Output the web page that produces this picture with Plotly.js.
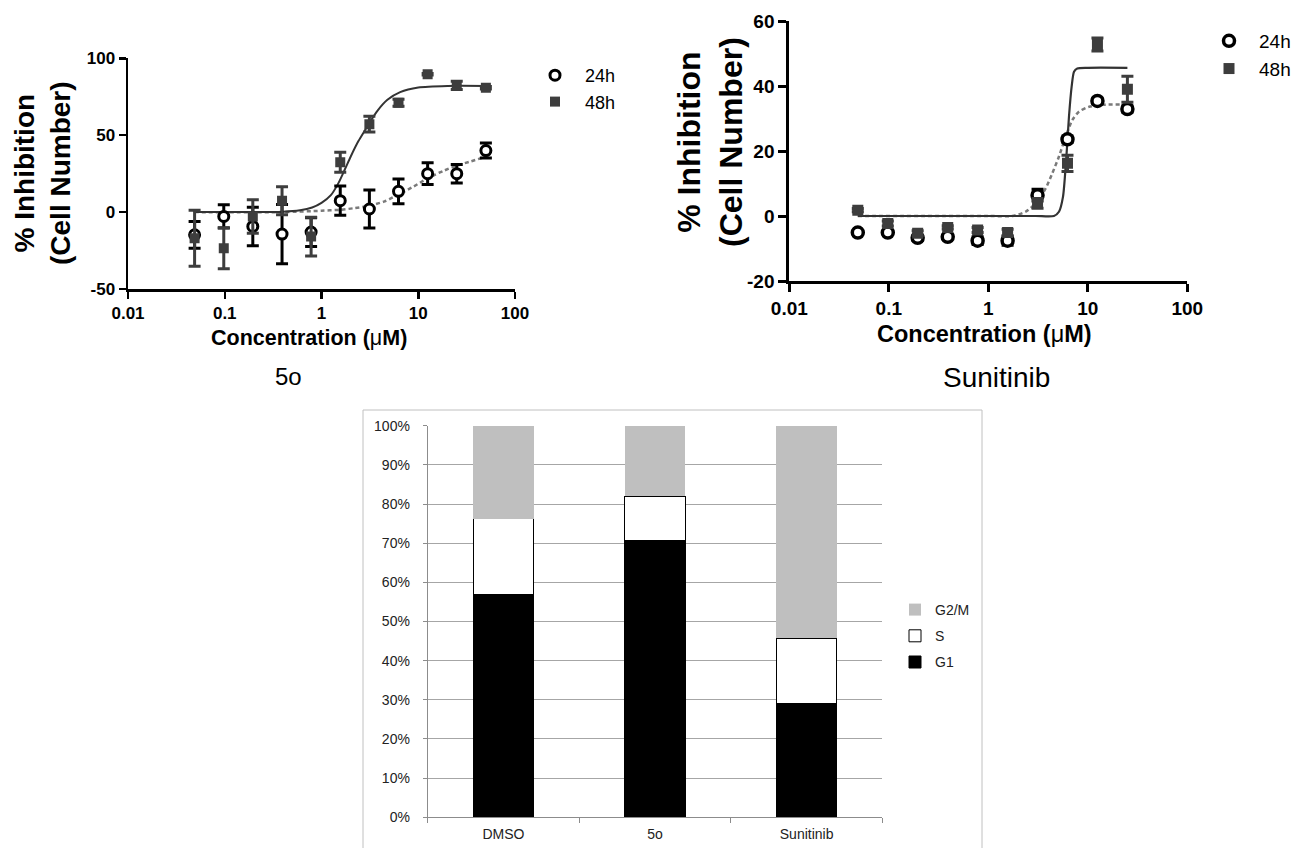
<!DOCTYPE html>
<html>
<head>
<meta charset="utf-8">
<script src="https://cdn.plot.ly/plotly-3.0.1.min.js"></script>
<style>
  html, body { margin: 0; padding: 0; background: #fff; }
  #chart { width: 1297px; height: 848px; }
</style>
</head>
<body>
<div id="chart"></div>
<script>
// ---------- Panel A: compound 5o ----------
const conc5o = [0.0488, 0.0977, 0.195, 0.391, 0.781, 1.5625, 3.125, 6.25, 12.5, 25, 50];
const inh5o24 = [-14.8, -2.8, -9.3, -14.3, -13.0, 7.4, 2.0, 13.5, 25.0, 25.0, 40.0];
const err5o24 = [8.7, 7.6, 12.5, 19.3, 9.3, 9.5, 12.3, 8.0, 7.1, 6.0, 4.9];
const inh5o48 = [-17.0, -23.5, -2.8, 7.4, -15.9, 32.4, 57.2, 71.1, 89.6, 82.4, 80.9];
const err5o48 = [18.2, 13.3, 10.9, 9.1, 12.6, 6.5, 5.2, 2.2, 0.5, 2.7, 0.8];
// fitted curves
const fit5o48X = [0.0488, 0.4, 0.6, 0.8, 1.0, 1.25, 1.5, 1.75, 2.0, 2.4, 2.8, 3.2, 3.8, 4.8, 6.5, 10, 20, 50];
const fit5o48Y = [0, 0.3, 1.2, 3, 6, 11, 19, 28, 36, 46, 53, 59, 66, 73, 78, 81, 82, 82];
const fit5o24X = [0.0488, 0.4, 1.0, 1.55, 2.2, 3.2, 4.5, 6.5, 9, 12.5, 18.5, 25, 35, 50];
const fit5o24Y = [0, 0, 0.9, 1.5, 2.6, 4.3, 7, 12, 16.7, 22, 27, 30.2, 33, 36];
const yTicks5o = [-50, 0, 50, 100];
const yText5o = ['<b>-50</b>', '<b>0</b>', '<b>50</b>', '<b>100</b>'];

// ---------- Panel B: Sunitinib ----------
const concSun = [0.0488, 0.0977, 0.195, 0.391, 0.781, 1.5625, 3.125, 6.25, 12.5, 25];
const inhSun24 = [-5.1, -5.1, -6.7, -6.4, -7.6, -7.6, 6.4, 23.6, 35.4, 32.9];
const errSun24 = [0.5, 0.5, 0.8, 0.5, 1.2, 1.4, 1.8, 1.0, 0.8, 1.0];
const inhSun48 = [1.8, -2.3, -5.3, -3.5, -4.3, -5.1, 3.9, 16.2, 52.8, 39.0];
const errSun48 = [0.5, 0.8, 0.8, 0.5, 0.8, 1.0, 1.5, 2.5, 2.0, 4.0];
const fitSun48X = [0.0488, 1, 3, 4.57, 5.13, 5.63, 5.99, 6.22, 6.47, 6.88, 7.27, 7.84, 10, 25];
const fitSun48Y = [0, 0, 0, 0, 1.3, 5.9, 15.2, 22.4, 30.6, 39.8, 44.4, 45.4, 45.6, 45.6];
const fitSun24X = [0.0488, 1, 1.74, 2.37, 3.04, 3.77, 4.39, 5.13, 5.99, 6.98, 8.14, 10.3, 13.9, 25];
const fitSun24Y = [0, 0, 0, 1.3, 4.1, 8.5, 13.1, 18.3, 24.4, 29.5, 32.1, 33.6, 34.2, 34.3];
const yTicksSun = [-20, 0, 20, 40, 60];
const yTextSun = ['<b>-20</b>', '<b>0</b>', '<b>20</b>', '<b>40</b>', '<b>60</b>'];

// ---------- Panel C: cell cycle ----------
const groups = ['DMSO', '5o', 'Sunitinib'];
const phaseG1 = [57.0, 70.8, 29.1];
const phaseS = [19.2, 11.2, 16.6];
const phaseG2M = [23.8, 18.0, 54.3];

const xTickVals = [0.01, 0.1, 1, 10, 100];
const xTickText = ['<b>0.01</b>', '<b>0.1</b>', '<b>1</b>', '<b>10</b>', '<b>100</b>'];

const FONT = 'Liberation Sans, Arial, Helvetica, sans-serif';

function curve(x, y, xa, ya, color, width, dash) {
  return {x: x, y: y, xaxis: xa, yaxis: ya, mode: 'lines', type: 'scatter',
    line: {color: color, width: width, dash: dash, shape: 'spline', smoothing: 0.7},
    showlegend: false, hoverinfo: 'skip'};
}
function pts24(x, y, e, xa, ya, lg, sz, lw, ew) {
  return {x: x, y: y, xaxis: xa, yaxis: ya, mode: 'markers', type: 'scatter', name: '24h', legend: lg,
    marker: {symbol: 'circle', size: sz, color: '#ffffff', line: {color: '#000000', width: lw}},
    error_y: {type: 'data', array: e, visible: true, color: '#000000', thickness: 3, width: ew}};
}
function pts48(x, y, e, xa, ya, lg, sz, ew) {
  return {x: x, y: y, xaxis: xa, yaxis: ya, mode: 'markers', type: 'scatter', name: '48h', legend: lg,
    marker: {symbol: 'square', size: sz, color: '#3d3d3d', line: {width: 0}},
    error_y: {type: 'data', array: e, visible: true, color: '#3d3d3d', thickness: 3, width: ew}};
}

const data = [
  curve(fit5o24X, fit5o24Y, 'x', 'y', '#7a7a7a', 2.5, '4px,3px'),
  curve(fit5o48X, fit5o48Y, 'x', 'y', '#333333', 2, 'solid'),
  pts24(conc5o, inh5o24, err5o24, 'x', 'y', 'legend', 10, 3, 6),
  pts48(conc5o, inh5o48, err5o48, 'x', 'y', 'legend', 10, 6),

  curve(fitSun24X, fitSun24Y, 'x2', 'y2', '#7a7a7a', 2.5, '4px,3px'),
  curve(fitSun48X, fitSun48Y, 'x2', 'y2', '#333333', 2.2, 'solid'),
  pts24(concSun, inhSun24, errSun24, 'x2', 'y2', 'legend2', 11, 3.5, 6),
  pts48(concSun, inhSun48, errSun48, 'x2', 'y2', 'legend2', 11, 6),

  {type: 'bar', x: groups, y: phaseG1, name: 'G1', xaxis: 'x3', yaxis: 'y3', legend: 'legend3',
    legendgroup: 'g1', legendrank: 3,
    marker: {color: '#000000', line: {color: '#000000', width: 1}}},
  {type: 'bar', x: groups, y: phaseS, name: 'S', xaxis: 'x3', yaxis: 'y3', legend: 'legend3',
    legendgroup: 's', legendrank: 2,
    marker: {color: '#ffffff', line: {color: '#000000', width: 1}}},
  {type: 'bar', x: groups, y: phaseG2M, name: 'G2/M', xaxis: 'x3', yaxis: 'y3', legend: 'legend3',
    legendgroup: 'g2m', legendrank: 1,
    marker: {color: '#bfbfbf', line: {width: 0}}}
];

function logAxis(domain, anchor, fs, lw, tl) {
  return {domain: domain, anchor: anchor, type: 'log', range: [-2, 2],
    tickvals: xTickVals, ticktext: xTickText, showgrid: false, zeroline: false,
    showline: true, linecolor: '#000', linewidth: lw, ticks: 'outside', ticklen: tl, tickwidth: lw,
    tickcolor: '#000', tickfont: {family: FONT, size: fs, color: '#000'}, fixedrange: true};
}
function linAxis(domain, anchor, range, tv, tt, fs, lw, tl) {
  return {domain: domain, anchor: anchor, range: range, tickvals: tv, ticktext: tt, showgrid: false, zeroline: false,
    showline: true, linecolor: '#000', linewidth: lw, ticks: 'outside', ticklen: tl, tickwidth: lw,
    tickcolor: '#000', tickfont: {family: FONT, size: fs, color: '#000'}, fixedrange: true};
}

const W = 1297, H = 848;
const px = v => v / W;
const py = v => 1 - v / H;

const layout = {
  width: W, height: H,
  margin: {l: 0, r: 0, t: 0, b: 0},
  paper_bgcolor: '#ffffff', plot_bgcolor: 'rgba(0,0,0,0)',
  font: {family: FONT, color: '#000'},
  barmode: 'stack', bargap: 0.6,
  xaxis: logAxis([px(128), px(515)], 'y', 17, 2.5, 7),
  yaxis: linAxis([py(289), py(58.3)], 'x', [-50, 100], yTicks5o, yText5o, 17, 2.5, 7),
  xaxis2: logAxis([px(789.3), px(1187.3)], 'y2', 19, 3, 8),
  yaxis2: linAxis([py(281), py(21)], 'x2', [-20, 60], yTicksSun, yTextSun, 19, 3, 8),
  xaxis3: {domain: [px(427.7), px(882.4)], anchor: 'y3', type: 'category', showgrid: false, zeroline: false,
    showline: true, linecolor: '#8c8c8c', linewidth: 1, ticks: 'outside', tickson: 'boundaries',
    ticklen: 5, tickcolor: '#8c8c8c', ticklabelstandoff: 4,
    tickfont: {family: FONT, size: 14, color: '#222'}, fixedrange: true},
  yaxis3: {domain: [py(817.3), py(425.7)], anchor: 'x3', range: [0, 100], dtick: 10, ticksuffix: '%',
    showgrid: true, gridcolor: '#a6a6a6', gridwidth: 1, zeroline: false,
    showline: true, linecolor: '#8c8c8c', linewidth: 1, ticks: 'outside', ticklen: 4, tickcolor: '#8c8c8c',
    ticklabelstandoff: 10,
    tickfont: {family: FONT, size: 14, color: '#222'}, fixedrange: true},
  legend: {x: px(525), y: py(57), xanchor: 'left', yanchor: 'top', itemwidth: 50, bgcolor: 'rgba(0,0,0,0)',
    font: {family: FONT, size: 18, color: '#000'}},
  legend2: {x: px(1199), y: py(22), xanchor: 'left', yanchor: 'top', itemwidth: 50, bgcolor: 'rgba(0,0,0,0)',
    font: {family: FONT, size: 19, color: '#000'}},
  legend3: {x: px(895), y: py(594), xanchor: 'left', yanchor: 'top', traceorder: 'grouped',
    tracegroupgap: 5, bgcolor: 'rgba(0,0,0,0)', font: {family: FONT, size: 14, color: '#222'}},
  shapes: [
    {type: 'rect', xref: 'paper', yref: 'paper', x0: px(363), x1: px(982), y0: -0.02, y1: py(410),
      line: {color: '#c0c0c0', width: 1}, fillcolor: 'rgba(0,0,0,0)', layer: 'below'}
  ],
  annotations: [
    {xref: 'paper', yref: 'paper', x: px(43), y: py(173), text: '% Inhibition<br>(Cell Number)', textangle: -90,
      showarrow: false, xanchor: 'center', yanchor: 'middle', font: {family: FONT, size: 28, weight: 'bold', color: '#000'}},
    {xref: 'paper', yref: 'paper', x: px(710), y: py(142), text: '% Inhibition<br>(Cell Number)', textangle: -90,
      showarrow: false, xanchor: 'center', yanchor: 'middle', font: {family: FONT, size: 32, weight: 'bold', color: '#000'}},
    {xref: 'paper', yref: 'paper', x: px(308.5), y: py(338), text: "Concentration (<span style='font-weight:normal'>μ</span>M)",
      showarrow: false, xanchor: 'center', yanchor: 'middle', font: {family: FONT, size: 21.5, weight: 'bold', color: '#000'}},
    {xref: 'paper', yref: 'paper', x: px(984.5), y: py(334), text: "Concentration (<span style='font-weight:normal'>μ</span>M)",
      showarrow: false, xanchor: 'center', yanchor: 'middle', font: {family: FONT, size: 23.5, weight: 'bold', color: '#000'}},
    {xref: 'paper', yref: 'paper', x: px(288), y: py(376), text: '5o',
      showarrow: false, xanchor: 'center', yanchor: 'middle', font: {family: FONT, size: 24, color: '#000'}},
    {xref: 'paper', yref: 'paper', x: px(996), y: py(378), text: 'Sunitinib',
      showarrow: false, xanchor: 'center', yanchor: 'middle', font: {family: FONT, size: 28, color: '#000'}}
  ]
};

Plotly.newPlot('chart', data, layout, {displayModeBar: false, staticPlot: true});
</script>
</body>
</html>
